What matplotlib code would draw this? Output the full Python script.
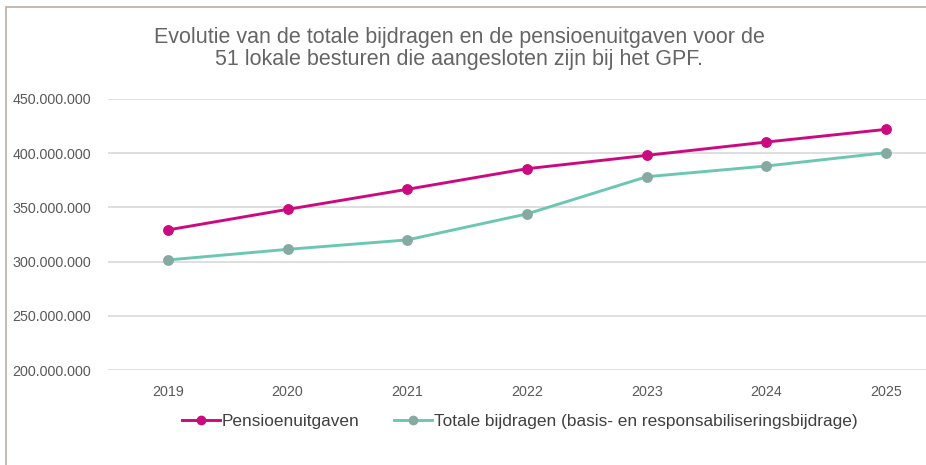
import matplotlib
matplotlib.use("Agg")
import matplotlib.pyplot as plt
from matplotlib.patches import Rectangle
from matplotlib.lines import Line2D
from matplotlib.ticker import FuncFormatter

years = ["2019", "2020", "2021", "2022", "2023", "2024", "2025"]
pensioen = [329.2e6, 348.2e6, 366.7e6, 385.7e6, 398.0e6, 410.3e6, 422.0e6]
bijdragen = [301.5e6, 311.3e6, 320.0e6, 344.0e6, 378.3e6, 388.2e6, 400.5e6]
yticks = [200e6, 250e6, 300e6, 350e6, 400e6, 450e6]

title = ("Evolutie van de totale bijdragen en de pensioenuitgaven voor de\n"
         "51 lokale besturen die aangesloten zijn bij het GPF.")
lbl_p = "Pensioenuitgaven"
lbl_b = "Totale bijdragen (basis- en responsabiliseringsbijdrage)"

magenta = "#cc0a80"
teal = "#6cc7b2"
teal_mk = "#86a9a2"
sans = ["Liberation Sans", "DejaVu Sans"]

W, H = 926, 465
fig = plt.figure(figsize=(W / 100, H / 100), dpi=100)
fig.patch.set_facecolor("white")

# outer frame (only left and top edge visible in the crop)
fig.patches.append(Rectangle((6 / W, -0.1), 1.2, 1 - 7 / H + 0.1, transform=fig.transFigure,
                             fill=False, edgecolor="#b9afa4", lw=1.2))

ax = fig.add_axes([108 / W, 95 / H, 838 / W, 271 / H])
x = list(range(len(years)))
ax.plot(x, pensioen, color=magenta, lw=2.1, marker="o", ms=6.8,
        mfc=magenta, mec=magenta, zorder=3)
ax.plot(x, bijdragen, color=teal, lw=2.1, marker="o", ms=6.8,
        mfc=teal_mk, mec=teal_mk, zorder=3)

ax.set_xlim(-0.5, 6.5)
ax.set_ylim(200e6, 450e6)
ax.set_yticks(yticks)
ax.set_xticks(x)
ax.set_xticklabels(years)
ax.yaxis.set_major_formatter(FuncFormatter(lambda v, p: f"{v:,.0f}".replace(",", ".")))
ax.grid(axis="y", color="#d9d9d9", lw=1.2)
ax.set_axisbelow(True)
for s in ax.spines.values():
    s.set_visible(False)
ax.tick_params(axis="both", length=0, labelcolor="#595959", labelsize=10.3)
ax.tick_params(axis="y", pad=12)
ax.tick_params(axis="x", pad=11)
for t in ax.get_xticklabels() + ax.get_yticklabels():
    t.set_family(sans)

fig.text(459 / W, 1 - 48.5 / H, title, ha="center", va="center", fontsize=15.5,
         color="#656565", family=sans, linespacing=1.12)

handles = [
    Line2D([], [], color=magenta, lw=2.1, marker="o", ms=6, mfc=magenta, mec=magenta),
    Line2D([], [], color=teal, lw=2.1, marker="o", ms=6, mfc=teal_mk, mec=teal_mk),
]
fig.legend(handles, [lbl_p, lbl_b], loc="center", bbox_to_anchor=(520 / W, 1 - 421 / H),
           ncol=2, frameon=False, handlelength=2.2, handletextpad=0.1, columnspacing=2.0,
           prop={"family": sans, "size": 12.4}, labelcolor="#404040")

fig.savefig("out.png", dpi=100)
